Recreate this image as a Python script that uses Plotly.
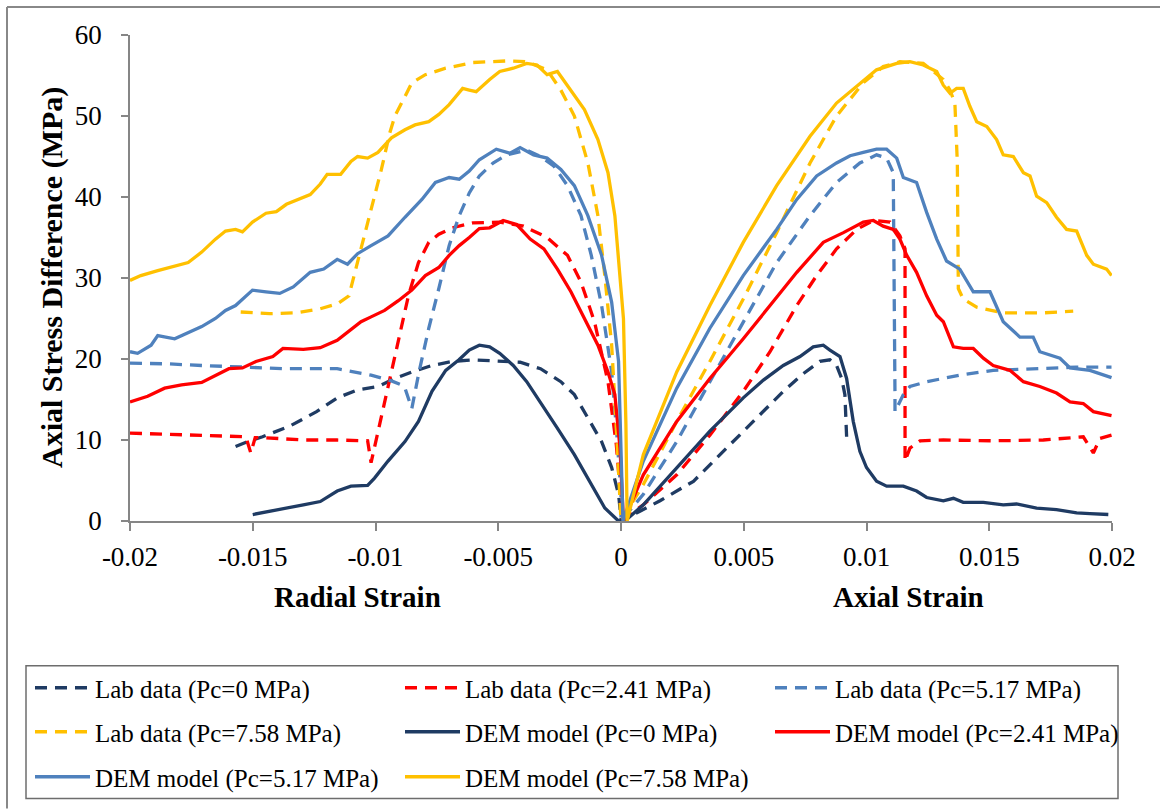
import plotly.graph_objects as go

# ---------------- data ----------------
lab0_rad_x = [-0.0157, -0.0152, -0.0146, -0.0135, -0.0124, -0.01156, -0.01073, -0.0099, -0.00921, -0.00852, -0.0077, -0.00687, -0.00604, -0.00494, -0.00411, -0.00328, -0.00245, -0.0019, -0.00135, -0.00079, -0.00038, -0.0001, 0.0]
lab0_rad_y = [9.2, 9.8, 10.4, 11.7, 13.5, 15.2, 16.2, 16.6, 17.6, 18.4, 19.2, 19.7, 19.9, 19.7, 19.6, 18.8, 17.2, 15.6, 12.7, 9.8, 6.6, 3.3, 0.4]
lab0_ax_x = [0.0, 0.00077, 0.00159, 0.00295, 0.0043, 0.00566, 0.00661, 0.00743, 0.0081, 0.00851, 0.00878, 0.00899, 0.00912, 0.00919]
lab0_ax_y = [0.0, 1.2, 2.5, 4.9, 9.0, 13.1, 16.0, 18.2, 19.7, 19.9, 19.2, 17.6, 15.6, 10.4]

lab241_rad_x = [-0.02, -0.01846, -0.01708, -0.0157, -0.01528, -0.01508, -0.0149, -0.0146, -0.01294, -0.01156, -0.01032, -0.01018, -0.0099, -0.00949, -0.00907, -0.00866, -0.00825, -0.00783, -0.00742, -0.00687, -0.00604, -0.00494, -0.00397, -0.00301, -0.00218, -0.00163, -0.00108, -0.00053, -0.00019, 0.0]
lab241_rad_y = [10.85, 10.7, 10.6, 10.4, 10.4, 8.4, 10.3, 10.3, 10.0, 10.0, 9.9, 7.2, 11.0, 16.4, 22.5, 27.8, 31.9, 34.4, 35.4, 36.2, 36.8, 36.9, 36.4, 35.0, 32.8, 29.5, 24.6, 17.2, 9.4, 2.5]
lab241_ax_x = [0.0, 0.00091, 0.00227, 0.00362, 0.00498, 0.00607, 0.00716, 0.00797, 0.00878, 0.0096, 0.01028, 0.01096, 0.01136, 0.01157, 0.01157, 0.01177, 0.01218, 0.01313, 0.01516, 0.0172, 0.01883, 0.01924, 0.01951, 0.01998]
lab241_ax_y = [0.0, 2.0, 5.7, 10.6, 16.0, 20.9, 26.6, 30.3, 33.6, 36.0, 37.1, 36.9, 35.2, 33.6, 7.4, 9.0, 9.9, 10.0, 9.9, 10.0, 10.4, 8.4, 10.2, 10.6]

lab517_rad_x = [-0.02, -0.01846, -0.01708, -0.01542, -0.01363, -0.01156, -0.01087, -0.01018, -0.00935, -0.00894, -0.0088, -0.00852, -0.00822, -0.00783, -0.00742, -0.007, -0.00659, -0.00618, -0.00577, -0.00521, -0.00466, -0.00384, -0.00328, -0.00273, -0.00218, -0.00163, -0.00121, -0.00079, -0.00038, -0.00019, 0.0]
lab517_rad_y = [19.5, 19.4, 19.2, 19.0, 18.8, 18.8, 18.4, 18.0, 17.3, 16.8, 16.4, 13.9, 18.5, 23.8, 28.7, 34.0, 37.7, 40.5, 42.6, 44.2, 45.2, 45.8, 45.0, 43.8, 41.4, 37.7, 32.8, 26.6, 18.4, 11.5, 3.3]
lab517_ax_x = [0.0, 0.00091, 0.00227, 0.00362, 0.00498, 0.00634, 0.0077, 0.00878, 0.00973, 0.01041, 0.01082, 0.01109, 0.01116, 0.01116, 0.0115, 0.01177, 0.01245, 0.0138, 0.01516, 0.0172, 0.01856, 0.01998]
lab517_ax_y = [0.0, 3.3, 9.8, 17.2, 24.6, 31.9, 37.7, 41.8, 44.2, 45.2, 44.8, 43.0, 15.6, 13.5, 15.6, 16.6, 17.2, 18.0, 18.6, 18.9, 19.0, 19.0]

lab758_rad_x = [-0.01549, -0.01432, -0.01322, -0.01225, -0.01156, -0.01108, -0.01094, -0.01059, -0.01018, -0.00976, -0.00942, -0.00921, -0.0088, -0.00852, -0.00797, -0.00714, -0.00604, -0.00466, -0.00384, -0.00301, -0.00245, -0.0019, -0.00135, -0.00094, -0.00066, -0.00038, -0.00019, 0.0]
lab758_rad_y = [25.8, 25.6, 25.7, 26.2, 26.8, 27.8, 29.5, 33.6, 38.5, 43.4, 47.9, 50.0, 52.4, 54.1, 55.1, 55.9, 56.6, 56.8, 56.7, 55.7, 53.2, 50.0, 44.2, 37.7, 30.3, 21.7, 11.5, 1.2]
lab758_ax_x = [0.0, 0.00091, 0.00227, 0.00362, 0.00498, 0.00634, 0.0077, 0.00878, 0.00987, 0.01068, 0.01136, 0.01231, 0.01313, 0.0134, 0.0136, 0.0137, 0.01374, 0.01394, 0.01449, 0.01557, 0.0172, 0.01842]
lab758_ax_y = [0.0, 4.5, 12.3, 19.7, 27.4, 35.6, 44.2, 50.0, 54.1, 56.1, 56.7, 56.5, 54.5, 53.2, 51.6, 44.2, 28.7, 27.4, 26.4, 25.7, 25.7, 25.9]

dem0_rad_x = [-0.015, -0.01404, -0.01294, -0.01225, -0.01156, -0.011, -0.01032, -0.01004, -0.00949, -0.0088, -0.00825, -0.0077, -0.00714, -0.0066, -0.00618, -0.00577, -0.00535, -0.00494, -0.00439, -0.00384, -0.00328, -0.0026, -0.0019, -0.0012, -0.00066, -0.0001]
dem0_rad_y = [0.8, 1.4, 2.0, 2.4, 3.7, 4.3, 4.4, 5.3, 7.4, 9.8, 12.3, 16.0, 18.6, 19.9, 21.1, 21.7, 21.5, 20.7, 19.2, 17.2, 14.7, 11.5, 8.2, 4.5, 1.6, 0.0]
dem0_ax_x = [0.00016, 0.00091, 0.00227, 0.00362, 0.00498, 0.0058, 0.00661, 0.00729, 0.00783, 0.00824, 0.00851, 0.00892, 0.00919, 0.00946, 0.00973, 0.01, 0.01041, 0.01082, 0.0115, 0.01204, 0.01245, 0.01313, 0.01354, 0.01394, 0.01476, 0.01557, 0.01611, 0.01693, 0.01774, 0.01856, 0.0191, 0.01985]
dem0_ax_y = [0.0, 2.0, 6.6, 11.1, 15.2, 17.4, 19.2, 20.3, 21.5, 21.7, 21.1, 20.3, 17.6, 12.3, 8.6, 6.6, 4.9, 4.3, 4.3, 3.7, 2.9, 2.5, 2.8, 2.3, 2.3, 2.0, 2.1, 1.6, 1.4, 1.0, 0.9, 0.8]

dem241_rad_x = [-0.02, -0.01928, -0.01859, -0.0179, -0.01708, -0.01652, -0.01597, -0.01542, -0.01487, -0.01418, -0.01377, -0.01294, -0.01225, -0.01156, -0.011, -0.01059, -0.01018, -0.00963, -0.00907, -0.00852, -0.00797, -0.00742, -0.007, -0.00659, -0.00618, -0.00577, -0.00535, -0.0048, -0.00425, -0.0037, -0.00314, -0.00259, -0.00204, -0.00149, -0.00094, -0.00053, -0.00025, -0.00004, 0.0001]
dem241_rad_y = [14.7, 15.4, 16.4, 16.8, 17.1, 18.0, 18.8, 18.9, 19.7, 20.3, 21.3, 21.2, 21.4, 22.3, 23.6, 24.6, 25.2, 26.0, 27.2, 28.5, 30.3, 31.3, 32.8, 34.0, 35.0, 36.1, 36.2, 37.1, 36.6, 34.8, 33.6, 31.1, 28.3, 25.0, 21.7, 18.4, 15.6, 9.0, 0.0]
dem241_ax_x = [0.0001, 0.00091, 0.00227, 0.00362, 0.00498, 0.00607, 0.00716, 0.00824, 0.00906, 0.00987, 0.01028, 0.01068, 0.01109, 0.01136, 0.01164, 0.01204, 0.01245, 0.01286, 0.01313, 0.01354, 0.01394, 0.01435, 0.01476, 0.01516, 0.01584, 0.01639, 0.01706, 0.01774, 0.01829, 0.01883, 0.01924, 0.01998]
dem241_ax_y = [0.0, 5.7, 12.3, 17.6, 22.5, 26.6, 30.7, 34.4, 35.6, 36.9, 37.1, 36.4, 36.0, 34.8, 32.8, 30.7, 27.8, 25.4, 24.6, 21.5, 21.3, 21.3, 20.1, 19.2, 18.6, 17.2, 16.6, 15.8, 14.7, 14.5, 13.5, 13.0]

dem517_rad_x = [-0.02, -0.01969, -0.01914, -0.01887, -0.01818, -0.01763, -0.01708, -0.01652, -0.01611, -0.0157, -0.01501, -0.01446, -0.0139, -0.01335, -0.01266, -0.01211, -0.01156, -0.01114, -0.01073, -0.01018, -0.00949, -0.0088, -0.00811, -0.00756, -0.007, -0.00659, -0.00618, -0.00577, -0.00508, -0.00452, -0.00411, -0.00356, -0.00301, -0.00245, -0.0019, -0.00135, -0.00079, -0.00038, -0.0001, 0.00008]
dem517_rad_y = [20.9, 20.7, 21.7, 22.9, 22.5, 23.3, 24.0, 25.0, 26.0, 26.6, 28.5, 28.3, 28.1, 28.9, 30.7, 31.1, 32.3, 31.7, 33.0, 34.0, 35.2, 37.5, 39.7, 41.8, 42.4, 42.2, 43.2, 44.6, 45.9, 45.4, 46.1, 45.2, 44.8, 43.4, 41.4, 37.7, 32.8, 27.0, 19.7, 0.0]
dem517_ax_x = [0.00008, 0.00091, 0.00227, 0.00362, 0.00498, 0.00634, 0.00716, 0.00797, 0.00878, 0.00933, 0.00987, 0.01041, 0.01082, 0.01123, 0.0115, 0.01204, 0.01245, 0.01286, 0.01326, 0.0138, 0.01435, 0.01503, 0.01557, 0.01625, 0.01679, 0.01706, 0.01788, 0.01829, 0.0191, 0.01951, 0.01998]
dem517_ax_y = [0.0, 7.4, 16.4, 23.8, 30.3, 36.0, 39.7, 42.6, 44.2, 45.1, 45.5, 45.9, 45.9, 44.8, 42.4, 41.8, 38.1, 34.8, 32.1, 31.1, 28.3, 28.3, 24.6, 22.7, 22.7, 20.9, 20.1, 18.9, 18.6, 18.2, 17.7]

dem758_rad_x = [-0.02, -0.01956, -0.01887, -0.01818, -0.01763, -0.01708, -0.01652, -0.01611, -0.0157, -0.01542, -0.01501, -0.01446, -0.01404, -0.01363, -0.01322, -0.01266, -0.01225, -0.01197, -0.01142, -0.011, -0.01073, -0.01032, -0.0099, -0.00935, -0.0088, -0.00839, -0.00783, -0.00742, -0.007, -0.00645, -0.00618, -0.0059, -0.00535, -0.00494, -0.00439, -0.00384, -0.00342, -0.00301, -0.00259, -0.00204, -0.00149, -0.00094, -0.00053, -0.00025, 0.0001, 0.0002, 0.00025]
dem758_rad_y = [29.7, 30.3, 30.9, 31.5, 31.9, 33.2, 34.8, 35.8, 36.0, 35.7, 36.9, 38.0, 38.2, 39.1, 39.6, 40.3, 41.6, 42.8, 42.8, 44.4, 45.0, 44.8, 45.5, 47.3, 48.3, 48.9, 49.3, 50.2, 51.4, 53.4, 53.2, 53.0, 54.5, 55.5, 55.9, 56.5, 56.3, 55.1, 55.5, 53.2, 50.8, 47.1, 43.0, 37.7, 25.0, 12.0, 0.0]
dem758_ax_x = [0.00025, 0.00091, 0.00227, 0.00362, 0.00498, 0.00634, 0.0077, 0.00878, 0.0096, 0.01041, 0.01123, 0.01177, 0.01231, 0.01286, 0.01313, 0.0134, 0.01367, 0.01394, 0.01421, 0.01449, 0.0149, 0.0153, 0.01557, 0.01598, 0.01639, 0.01666, 0.01693, 0.01734, 0.01774, 0.01815, 0.01856, 0.01897, 0.01924, 0.01978, 0.01998]
dem758_ax_y = [0.0, 8.2, 18.4, 26.6, 34.4, 41.4, 47.5, 51.6, 53.6, 55.7, 56.5, 56.7, 56.3, 55.5, 53.8, 52.8, 53.4, 53.4, 51.2, 49.3, 48.7, 47.1, 45.2, 45.0, 43.0, 42.6, 40.1, 39.3, 37.5, 36.0, 35.8, 32.8, 31.7, 31.1, 30.3]

x_tick_vals = [-0.02, -0.015, -0.01, -0.005, 0, 0.005, 0.01, 0.015, 0.02]
x_tick_text = ["-0.02", "-0.015", "-0.01", "-0.005", "0", "0.005", "0.01", "0.015", "0.02"]
y_tick_vals = [0, 10, 20, 30, 40, 50, 60]

NAVY = "#1F3B63"
RED = "#FF0000"
BLUE = "#4F81BD"
GOLD = "#FFC000"
DASH = "12px,8px"

series = [
    ("Lab data (Pc=0 MPa)", lab0_rad_x, lab0_rad_y, lab0_ax_x, lab0_ax_y, NAVY, DASH, "legend"),
    ("Lab data (Pc=2.41 MPa)", lab241_rad_x, lab241_rad_y, lab241_ax_x, lab241_ax_y, RED, DASH, "legend"),
    ("Lab data (Pc=5.17 MPa)", lab517_rad_x, lab517_rad_y, lab517_ax_x, lab517_ax_y, BLUE, DASH, "legend"),
    ("Lab data (Pc=7.58 MPa)", lab758_rad_x, lab758_rad_y, lab758_ax_x, lab758_ax_y, GOLD, DASH, "legend2"),
    ("DEM model (Pc=0 MPa)", dem0_rad_x, dem0_rad_y, dem0_ax_x, dem0_ax_y, NAVY, "solid", "legend2"),
    ("DEM model (Pc=2.41 MPa)", dem241_rad_x, dem241_rad_y, dem241_ax_x, dem241_ax_y, RED, "solid", "legend2"),
    ("DEM model (Pc=5.17 MPa)", dem517_rad_x, dem517_rad_y, dem517_ax_x, dem517_ax_y, BLUE, "solid", "legend3"),
    ("DEM model (Pc=7.58 MPa)", dem758_rad_x, dem758_rad_y, dem758_ax_x, dem758_ax_y, GOLD, "solid", "legend3"),
]

fig = go.Figure()
for name, rx, ry, ax, ay, col, dash, leg in series:
    fig.add_trace(go.Scatter(
        x=list(rx) + list(ax), y=list(ry) + list(ay), mode="lines", name=name,
        line=dict(color=col, width=3.3, dash=dash), legend=leg,
    ))

L, R, T, B = 130, 48, 35, 288
W, H = 1160, 810
pw, ph = W - L - R, H - T - B

def px_x(p):
    return (p - L) / pw

def px_y(p):
    return (H - B - p) / ph

FONT = "Liberation Serif, Times New Roman, serif"
axis_col = "#868686"

fig.update_layout(
    width=W, height=H, margin=dict(l=L, r=R, t=T, b=B),
    paper_bgcolor="white", plot_bgcolor="white",
    font=dict(family=FONT, color="black"),
    xaxis=dict(range=[-0.02, 0.02], tickvals=x_tick_vals, ticktext=x_tick_text,
               showgrid=False, zeroline=False, showline=True, linecolor=axis_col, linewidth=1.5,
               ticks="outside", ticklen=8, tickcolor=axis_col, tickwidth=1.5,
               tickfont=dict(family=FONT, size=27, color="black"), ticklabelstandoff=3),
    yaxis=dict(range=[0, 60], tickvals=y_tick_vals, showgrid=False, zeroline=False,
               showline=True, linecolor=axis_col, linewidth=1.5,
               ticks="outside", ticklen=7, tickcolor=axis_col, tickwidth=1.5,
               tickfont=dict(family=FONT, size=27, color="black"), ticklabelstandoff=14),
)

leg_common = dict(orientation="h", xanchor="left", yanchor="middle",
                  font=dict(family=FONT, size=25, color="black"),
                  bgcolor="rgba(0,0,0,0)", borderwidth=0, entrywidth=300,
                  entrywidthmode="pixels", itemwidth=55, traceorder="normal")
fig.update_layout(
    legend=dict(x=px_x(30), y=px_y(688), **leg_common),
    legend2=dict(x=px_x(30), y=px_y(732), **leg_common),
    legend3=dict(x=px_x(30), y=px_y(777), **leg_common),
)

# legend frame and outer chart border
fig.add_shape(type="rect", xref="paper", yref="paper",
              x0=px_x(26), x1=px_x(1118), y0=px_y(800), y1=px_y(667),
              line=dict(color="#6d6d6d", width=1.5), fillcolor="rgba(0,0,0,0)")
fig.add_shape(type="line", xref="paper", yref="paper",
              x0=px_x(7), x1=px_x(1160), y0=px_y(7), y1=px_y(7),
              line=dict(color="#888888", width=2))
fig.add_shape(type="line", xref="paper", yref="paper",
              x0=px_x(7), x1=px_x(7), y0=px_y(7), y1=px_y(810),
              line=dict(color="#888888", width=2))

fig.add_annotation(text="<b>Axial Stress Difference (MPa)</b>", textangle=-90,
                   xref="paper", yref="paper", x=px_x(52), y=0.5, xanchor="center", yanchor="middle",
                   showarrow=False, font=dict(family=FONT, size=30, color="black"))
fig.add_annotation(text="<b>Radial Strain</b>", xref="paper", yref="paper",
                   x=px_x(357), y=px_y(598), xanchor="center", yanchor="middle",
                   showarrow=False, font=dict(family=FONT, size=29, color="black"))
fig.add_annotation(text="<b>Axial Strain</b>", xref="paper", yref="paper",
                   x=px_x(908), y=px_y(598), xanchor="center", yanchor="middle",
                   showarrow=False, font=dict(family=FONT, size=29, color="black"))

fig.write_html("out.html", config={"displayModeBar": False},
               post_script="document.body.style.margin='0';document.body.style.overflow='hidden';")
